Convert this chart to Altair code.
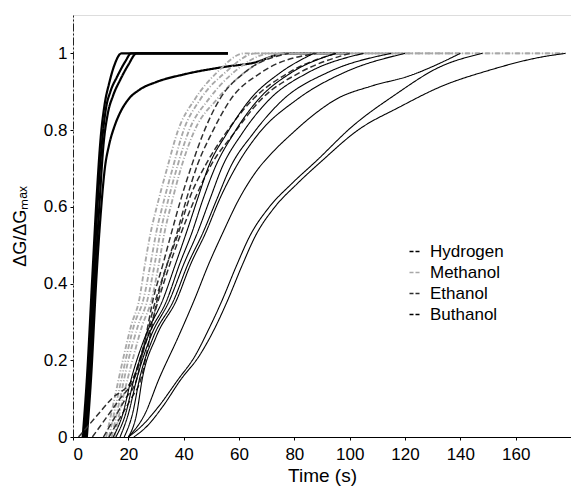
import altair as alt
import pandas as pd

groups = ["Hydrogen", "Methanol", "Ethanol", "Buthanol"]
group_colors = ["#000000", "#a8a8a8", "#2e2e2e", "#000000"]
group_dash = [[1, 0], [5, 2, 1, 2], [6, 3], [1, 0]]
group_width = [2.2, 1.1, 1.5, 1.7]

x_ticks = [0, 20, 40, 60, 80, 100, 120, 140, 160]
y_ticks = [0, 0.2, 0.4, 0.6, 0.8, 1]

# Hydrogen
h1_t = [3.5, 5, 7, 8.5, 10, 11.5, 13, 15, 17.5, 56]
h1_v = [0, 0.15, 0.42, 0.62, 0.78, 0.87, 0.92, 0.97, 1, 1]
h2_t = [4, 5.5, 7.5, 9, 10.5, 12, 13.5, 16, 19, 21, 56]
h2_v = [0, 0.15, 0.42, 0.62, 0.77, 0.86, 0.9, 0.94, 0.98, 1, 1]
h3_t = [4.5, 6, 8, 9.5, 11, 12.5, 14.5, 17, 20, 23, 56]
h3_v = [0, 0.15, 0.42, 0.6, 0.76, 0.84, 0.89, 0.93, 0.97, 1, 1]
h4_t = [5, 6.5, 8.5, 10, 11.5, 13, 15, 17, 20, 24, 30, 40, 55, 65, 77, 100]
h4_v = [0, 0.15, 0.42, 0.58, 0.7, 0.76, 0.81, 0.845, 0.88, 0.905, 0.925, 0.945, 0.965, 0.975, 1, 1]

# Methanol
mv = [0, 0.1, 0.2, 0.29, 0.36, 0.45, 0.53, 0.62, 0.7, 0.8, 0.88, 0.95, 1, 1]
m1_t = [12, 15, 18, 21, 24, 26, 28, 31, 34, 38, 44, 52, 62, 178]
m2_t = [13, 16, 19, 22, 25.5, 28, 30, 33, 36, 40, 46, 55, 66, 120]
m3_t = [14, 17, 20, 23.5, 27, 29.5, 31.5, 34.5, 37.5, 42, 49, 58, 72, 140]
m4_t = [15, 18, 21.5, 25, 28.5, 31, 33, 36, 39, 44, 52, 62, 78, 178]

# Ethanol
ev = [0, 0.05, 0.1, 0.15, 0.25, 0.36, 0.45, 0.53, 0.62, 0.71, 0.79, 0.88, 0.95, 1]
e1_t = [2, 8, 14, 21.5, 26, 30, 34, 38, 42, 48, 55, 65, 78, 95]
e2_t = [7, 12, 17, 22, 26.5, 31, 35, 39, 44, 50, 58, 68, 82, 100]
e3_t = [11, 15, 19, 23, 26, 29, 32.5, 35.5, 39, 43, 47, 53, 62, 78]
e4_t = [13, 17, 21, 24.5, 27.5, 30.5, 34, 37.5, 41, 45, 50, 57, 68, 88]

# Buthanol: main bundle
bv = [0, 0.06, 0.15, 0.26, 0.358, 0.45, 0.533, 0.62, 0.705, 0.79, 0.88, 0.95, 1]
b1_t = [14.5, 18, 21, 26, 32.5, 37, 41, 45, 49, 55.5, 64, 75, 87]
b2_t = [15.5, 19, 22, 27, 34, 38.5, 43, 47, 51.5, 58, 67, 79, 95]
b3_t = [17, 20, 23, 28, 35, 40, 45, 49.5, 54, 61, 71, 85, 105]
b4_t = [18.5, 21.5, 24, 29, 36.5, 41.5, 47, 52, 57, 65, 76, 92, 115]
b5_t = [20, 23, 25, 30, 37.5, 42.5, 48, 53, 59, 67, 81, 98, 120]
# Buthanol: slow curves
b6_t = [20, 25, 31, 38, 44, 49, 54, 59, 64, 71, 79, 88, 101, 116, 133, 148]
b6_v = [0, 0.03, 0.08, 0.15, 0.21, 0.28, 0.358, 0.445, 0.525, 0.6, 0.66, 0.72, 0.81, 0.89, 0.966, 1]
b7_t = [22, 27, 32.5, 39, 45.5, 51, 56, 61, 66, 73, 81, 90, 103, 118, 133.5, 150, 169, 178]
b7_v = [0, 0.03, 0.08, 0.15, 0.21, 0.28, 0.358, 0.445, 0.525, 0.6, 0.66, 0.72, 0.8, 0.86, 0.915, 0.955, 0.99, 1]
b8_t = [20, 26, 31, 38, 44, 49, 54, 60, 66, 72.5, 79, 87, 95, 108, 121, 140]
b8_v = [0, 0.06, 0.15, 0.26, 0.36, 0.45, 0.53, 0.62, 0.69, 0.745, 0.79, 0.84, 0.88, 0.915, 0.94, 1]

curves = [
    ("Hydrogen", "h1", h1_t, h1_v), ("Hydrogen", "h2", h2_t, h2_v),
    ("Hydrogen", "h3", h3_t, h3_v), ("Hydrogen", "h4", h4_t, h4_v),
    ("Methanol", "m1", m1_t, mv), ("Methanol", "m2", m2_t, mv),
    ("Methanol", "m3", m3_t, mv), ("Methanol", "m4", m4_t, mv),
    ("Ethanol", "e1", e1_t, ev), ("Ethanol", "e2", e2_t, ev),
    ("Ethanol", "e3", e3_t, ev), ("Ethanol", "e4", e4_t, ev),
    ("Buthanol", "b1", b1_t, bv), ("Buthanol", "b2", b2_t, bv),
    ("Buthanol", "b3", b3_t, bv), ("Buthanol", "b4", b4_t, bv),
    ("Buthanol", "b5", b5_t, bv), ("Buthanol", "b6", b6_t, b6_v),
    ("Buthanol", "b7", b7_t, b7_v), ("Buthanol", "b8", b8_t, b8_v),
]

rows = []
for g, name, ts, vs in curves:
    for i, (t, v) in enumerate(zip(ts, vs)):
        rows.append({"series": g, "style": g + " ", "run": name, "t": t, "v": v, "i": i})
df = pd.DataFrame(rows)

FONT = "Liberation Sans"
styles = [g + " " for g in groups]

chart = alt.Chart(df).mark_line(clip=True, interpolate="monotone").encode(
    x=alt.X("t:Q",
            scale=alt.Scale(domain=[0, 180], nice=False, zero=True),
            axis=alt.Axis(values=x_ticks, title="Time (s)", grid=False,
                          tickSize=3, labelPadding=6, labelFontSize=17,
                          titleFontSize=19, titlePadding=4,
                          titleFontWeight="normal",
                          domainColor="#000000", tickColor="#000000")),
    y=alt.Y("v:Q",
            scale=alt.Scale(domain=[0, 1.1], nice=False),
            axis=alt.Axis(values=y_ticks, format="~g", title="ΔG/ΔGₘₐₓ",
                          grid=False, tickSize=3, labelPadding=3,
                          labelFontSize=17, titleFontSize=18,
                          titleFontWeight="normal",
                          titlePadding=14, domainColor="#222222",
                          domainDash=[8, 2, 2, 2], tickColor="#000000")),
    color=alt.Color("series:N",
                    scale=alt.Scale(domain=groups, range=group_colors),
                    legend=alt.Legend(title=None, orient="none",
                                      legendX=333, legendY=228,
                                      symbolType="stroke", symbolSize=100,
                                      symbolStrokeWidth=1.5,
                                      symbolDash=[4, 2],
                                      labelFontSize=17, labelFont=FONT,
                                      rowPadding=3, labelOffset=7)),
    strokeDash=alt.StrokeDash("style:N",
                              scale=alt.Scale(domain=styles, range=group_dash),
                              legend=None),
    strokeWidth=alt.StrokeWidth("style:N",
                                scale=alt.Scale(domain=styles, range=group_width),
                                legend=None),
    detail="run:N",
    order="i:Q",
).properties(
    width=498, height=422,
    padding={"left": 73, "top": 15, "right": 0, "bottom": 56},
    autosize=alt.AutoSizeParams(type="none"),
).configure_view(stroke=None).configure_axis(
    labelFont=FONT, titleFont=FONT, labelColor="#000000", titleColor="#000000",
).configure(background="white")

chart.save("out.html", embed_options={"renderer": "svg", "actions": False})
